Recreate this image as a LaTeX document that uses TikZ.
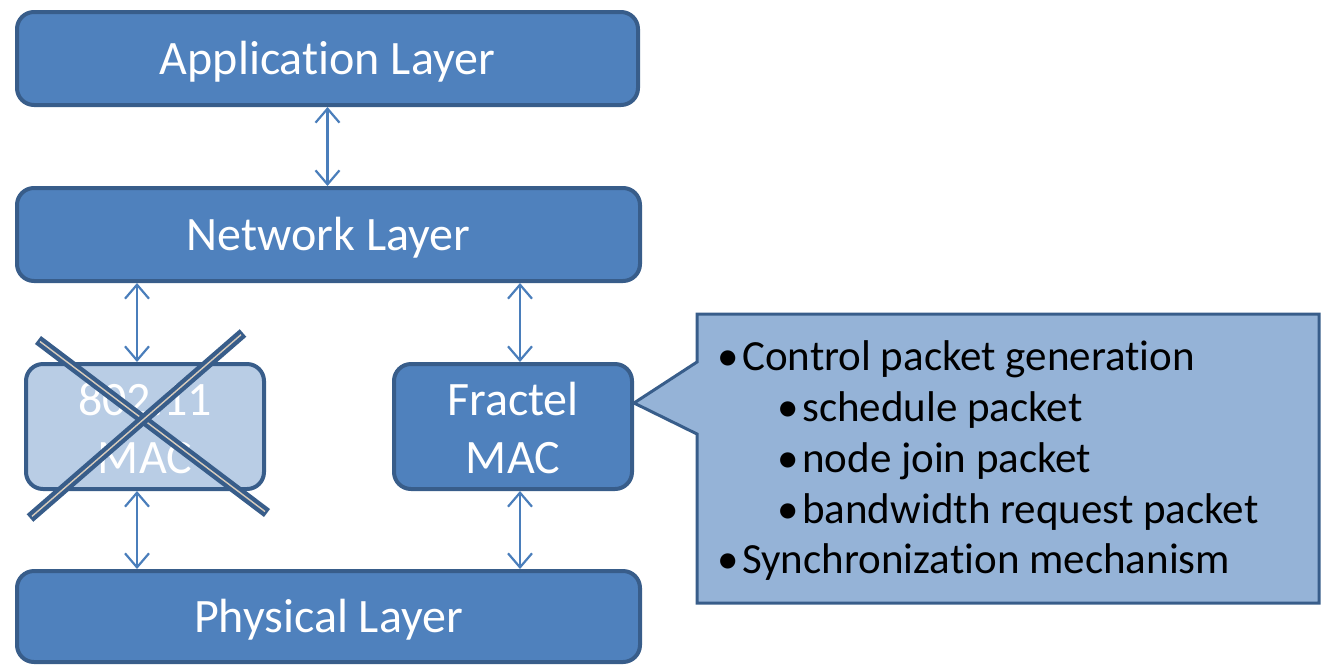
\documentclass[tikz,border=0pt]{standalone}
\usepackage{fontspec}
\setmainfont{Carlito}[Ligatures=NoCommon]
\usetikzlibrary{arrows.meta}
\definecolor{layerfill}{HTML}{4F81BD}
\definecolor{layerline}{HTML}{385D8A}
\definecolor{oldfill}{HTML}{B9CDE5}
\definecolor{notefill}{HTML}{95B3D7}
\definecolor{arrowcol}{HTML}{4A7EBB}
\definecolor{crossmid}{HTML}{D8CCBC}
\tikzset{
  layer/.style={draw=layerline, line width=4pt, fill=layerfill, rounded corners=17pt,
    text=white, font=\fontsize{48}{58}\selectfont, inner sep=0pt,
    text height=31pt, text depth=0pt},
  oldlayer/.style={layer, fill=oldfill},
  boxlabel/.style={anchor=base, inner sep=0pt, text=white, font=\fontsize{48}{58}\selectfont},
  dblarr/.style={draw=arrowcol, line width=2.2pt,
    {Straight Barb[length=14pt,width=24pt,line width=2.2pt]}-{Straight Barb[length=14pt,width=24pt,line width=2.2pt]}},
  crossbar/.style={draw=layerline, line width=10pt},
  crossinner/.style={draw=crossmid, line width=1.4pt},
  note/.style={draw=layerline, line width=3pt, fill=notefill},
  item/.style={anchor=base west, inner sep=0pt, font=\fontsize{43}{50}\selectfont}
}
\begin{document}
\begin{tikzpicture}[x=1pt,y=-1pt]
\useasboundingbox (0,0) rectangle (1321,665);

% protocol stack
\node[layer, minimum width=621pt, minimum height=93pt] (app) at (327.5,58.5) {Application Layer};
\node[layer, minimum width=623pt, minimum height=93pt] (net) at (328.5,234.5) {Network Layer};
\node[layer, minimum width=623pt, minimum height=91pt] (phy) at (328.5,616.5) {Physical Layer};
\node[oldlayer, minimum width=238pt, minimum height=125pt] (mac) at (145,426.5) {};
\node[layer, minimum width=238pt, minimum height=125pt] (frac) at (513,426.5) {};
\node[boxlabel] (macA) at (145,415) {802.11};
\node[boxlabel] (macB) at (145,473) {MAC};
\node[boxlabel] (fracA) at (513,415) {Fractel};
\node[boxlabel] (fracB) at (513,473) {MAC};

% interfaces between layers
\draw[dblarr] (app.south) -- (app.south |- net.north);
\draw[dblarr] ([xshift=-8pt]mac.north) -- ([xshift=-8pt]mac.north |- net.south);
\draw[dblarr] ([xshift=7pt]frac.north) -- ([xshift=7pt]frac.north |- net.south);
\draw[dblarr] ([xshift=-8pt]mac.south) -- ([xshift=-8pt]mac.south |- phy.north);
\draw[dblarr] ([xshift=7pt]frac.south) -- ([xshift=7pt]frac.south |- phy.north);

% the replaced MAC is crossed out
\draw[crossbar] (38,340) -- (267,513);
\draw[crossinner] (40,341.5) -- (265,511.5);
\draw[crossbar] (30,518) -- (243,333);
\draw[crossinner] (32,516.3) -- (241,334.7);

% callout describing the Fractel MAC
\coordinate (tip) at (frac.east |- 0,403);
\draw[note] (697,314) -- (1319,314) -- (1319,603) -- (697,603) -- (697,434) -- (tip) -- (697,362) -- cycle;

\node[item] (b1) at (717,370) {\makebox[25pt][l]{•}Control packet generation};
\node[item] (b2) at (777,421) {\makebox[25pt][l]{•}schedule packet};
\node[item] (b3) at (777,472) {\makebox[25pt][l]{•}node join packet};
\node[item] (b4) at (777,523) {\makebox[25pt][l]{•}bandwidth request packet};
\node[item] (b5) at (717,573) {\makebox[25pt][l]{•}Synchronization mechanism};
\end{tikzpicture}
\end{document}
